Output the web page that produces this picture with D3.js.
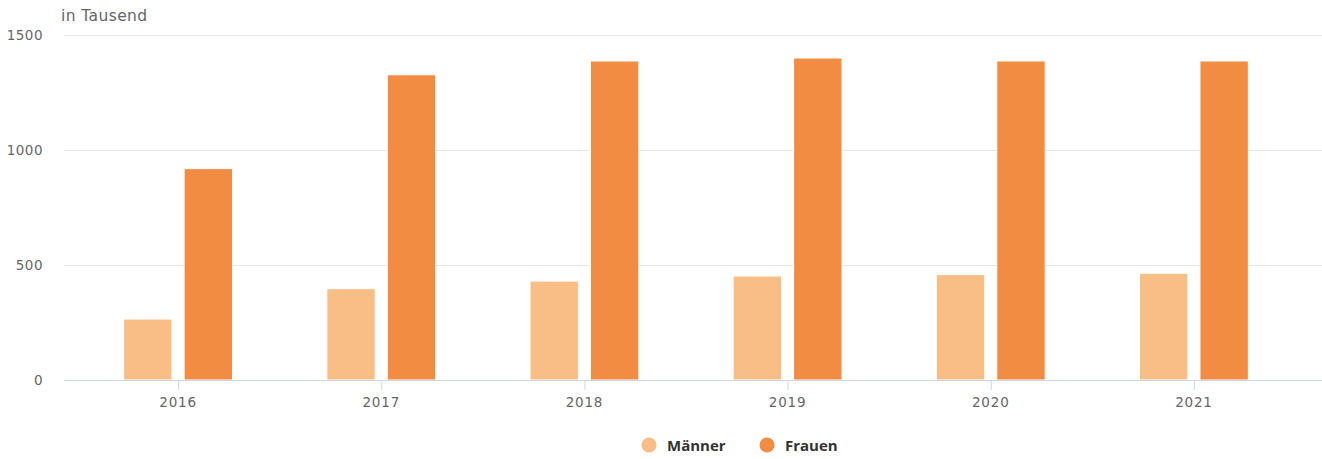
<!DOCTYPE html>
<html>
<head>
<meta charset="utf-8">
<script src="https://cdn.jsdelivr.net/npm/d3@7"></script>
<style>
  body { margin: 0; background: #fff; }
  svg { display: block; font-family: "DejaVu Sans", sans-serif; }
</style>
</head>
<body>
<svg id="chart" width="1322" height="459"></svg>
<script>
var years = ["2016", "2017", "2018", "2019", "2020", "2021"];
var maenner = [265, 397, 430, 452, 458, 464];
var frauen = [919, 1327, 1387, 1400, 1387, 1387];
var seriesNames = ["Männer", "Frauen"];
var seriesColors = ["#f9bd86", "#f28c42"];
var yTicks = [0, 500, 1000, 1500];

var svg = d3.select("#chart");
var plotLeft = 64, plotRight = 1322, plotTop = 35, plotBottom = 380;

var x = d3.scaleBand()
    .domain(years)
    .range([76.5, 1295.5]);
var inner = d3.scaleBand()
    .domain(seriesNames)
    .range([0, x.bandwidth()])
    .paddingInner(0.2)
    .paddingOuter(0.78);
var y = d3.scaleLinear()
    .domain([0, 1500])
    .range([plotBottom, plotTop]);

// grid lines
svg.append("g")
    .selectAll("line")
    .data(yTicks.filter(function (d) { return d > 0; }))
    .enter().append("line")
    .attr("x1", plotLeft)
    .attr("x2", plotRight)
    .attr("y1", function (d) { return Math.round(y(d)) + 0.5; })
    .attr("y2", function (d) { return Math.round(y(d)) + 0.5; })
    .attr("stroke", "#e6e6e6")
    .attr("stroke-width", 1);

// y labels
svg.append("g")
    .selectAll("text")
    .data(yTicks)
    .enter().append("text")
    .attr("x", 43)
    .attr("y", function (d) { return y(d) + 5; })
    .attr("text-anchor", "end")
    .attr("fill", "#666")
    .style("font-size", "13.5px")
    .style("letter-spacing", "0.5px")
    .text(function (d) { return d; });

svg.append("text")
    .attr("x", 61)
    .attr("y", 21)
    .attr("fill", "#666")
    .style("font-size", "15.5px")
    .style("letter-spacing", "0.4px")
    .text("in Tausend");

// bars
var data = years.map(function (yr, i) {
    return { year: yr, values: [maenner[i], frauen[i]] };
});
var groups = svg.append("g")
    .selectAll("g")
    .data(data)
    .enter().append("g")
    .attr("transform", function (d) { return "translate(" + x(d.year) + ",0)"; });
groups.selectAll("rect")
    .data(function (d) {
        return d.values.map(function (v, j) { return { name: seriesNames[j], value: v, color: seriesColors[j] }; });
    })
    .enter().append("rect")
    .attr("x", function (d) { return inner(d.name); })
    .attr("width", inner.bandwidth())
    .attr("y", function (d) { return y(d.value); })
    .attr("height", function (d) { return y(0) - y(d.value); })
    .attr("fill", function (d) { return d.color; })
    .attr("stroke", "#fff")
    .attr("stroke-width", 1);

// x axis
svg.append("line")
    .attr("x1", plotLeft)
    .attr("x2", plotRight)
    .attr("y1", plotBottom + 0.5)
    .attr("y2", plotBottom + 0.5)
    .attr("stroke", "#ccd6eb");
var xt = svg.append("g")
    .selectAll("g")
    .data(years)
    .enter().append("g")
    .attr("transform", function (d) { return "translate(" + (x(d) + x.bandwidth() / 2) + ",0)"; });
xt.append("line")
    .attr("x1", 0.5).attr("x2", 0.5)
    .attr("y1", plotBottom).attr("y2", plotBottom + 10)
    .attr("stroke", "#ccd6eb");
xt.append("text")
    .attr("y", 407)
    .attr("text-anchor", "middle")
    .attr("fill", "#666")
    .style("font-size", "13.5px")
    .style("letter-spacing", "0.8px")
    .text(function (d) { return d; });

// legend
var legendX = [649, 767];
var lg = svg.append("g")
    .selectAll("g")
    .data(seriesNames)
    .enter().append("g")
    .attr("transform", function (d, i) { return "translate(" + legendX[i] + ",445)"; });
lg.append("circle")
    .attr("r", 7.5)
    .attr("fill", function (d, i) { return seriesColors[i]; });
lg.append("text")
    .attr("x", 18)
    .attr("y", 6)
    .attr("fill", "#333")
    .style("font-size", "15px")
    .style("font-weight", "bold")
    .style("font-family", "'Open Sans', sans-serif")
    .text(function (d) { return d; });
</script>
</body>
</html>
